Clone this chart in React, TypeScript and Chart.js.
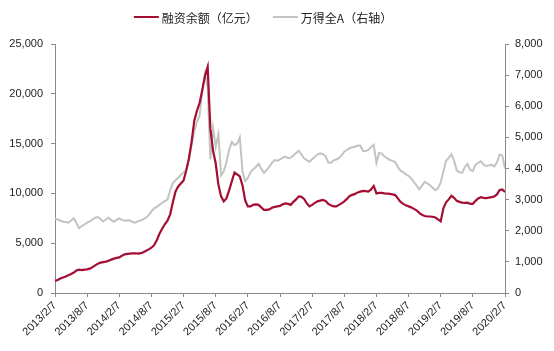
import React, { useEffect, useRef } from 'react';
import { Chart, registerables } from 'chart.js';

Chart.register(...registerables);

// x tick labels, one every 6 months (x axis is in months since 2013/2/7)
const tickLabels = [
  '2013/2/7', '2013/8/7', '2014/2/7', '2014/8/7', '2015/2/7', '2015/8/7', '2016/2/7',
  '2016/8/7', '2017/2/7', '2017/8/7', '2018/2/7', '2018/8/7', '2019/2/7', '2019/8/7', '2020/2/7',
];
const MONTHS_PER_TICK = 6;
const MONTHS_PER_POINT = 0.5;

const seriesNames = ['融资余额（亿元）', '万得全A（右轴）'];

// 融资余额 (亿元), half-month samples from 2013/2/7 to 2020/2/7
const marginBalance = [
  1200, 1300, 1450, 1550, 1650, 1780, 1900, 2050, 2250, 2350, 2300, 2350,
  2380, 2450, 2600, 2780, 2950, 3050, 3100, 3150, 3230, 3350, 3450, 3520,
  3580, 3750, 3880, 3920, 3950, 3980, 3990, 3960, 4000, 4100, 4250, 4380,
  4550, 4800, 5300, 5950, 6450, 6900, 7250, 7900, 9100, 10200, 10700, 11000,
  11300, 12300, 13500, 15200, 17300, 18300, 19100, 20400, 21800, 22700, 16500, 14300,
  13000, 10900, 9700, 9200, 9500, 10300, 11200, 12100, 11900, 11700, 10800, 9300,
  8700, 8700, 8850, 8900, 8850, 8600, 8350, 8350, 8400, 8550, 8650, 8700,
  8750, 8900, 9000, 8950, 8850, 9150, 9400, 9700, 9650, 9450, 9000, 8700,
  8850, 9050, 9200, 9280, 9350, 9250, 8950, 8800, 8700, 8700, 8850, 9000,
  9200, 9450, 9750, 9850, 9950, 10100, 10180, 10250, 10220, 10180, 10400, 10750,
  10000, 10050, 10050, 10000, 9980, 9950, 9900, 9830, 9500, 9150, 8950, 8800,
  8700, 8600, 8450, 8300, 8050, 7850, 7730, 7700, 7680, 7650, 7580, 7400,
  7200, 8500, 9100, 9400, 9750, 9550, 9250, 9150, 9080, 9050, 9070, 8950,
  8950, 9250, 9500, 9620, 9550, 9520, 9580, 9620, 9700, 9900, 10350, 10400,
  10150,
];

// 万得全A index (right axis), half-month samples
const windAllA = [
  2400, 2360, 2330, 2290, 2280, 2260, 2330, 2400, 2250, 2080, 2150, 2200,
  2260, 2300, 2370, 2420, 2440, 2380, 2300, 2360, 2420, 2340, 2290, 2350,
  2400, 2350, 2320, 2340, 2330, 2280, 2260, 2310, 2330, 2370, 2420, 2500,
  2620, 2720, 2770, 2830, 2900, 2950, 3000, 3300, 3530, 3620, 3700, 3800,
  3870, 3950, 4300, 4750, 5200, 5500, 5700, 6500, 7050, 6600, 4300, 5300,
  4700, 5100, 3780, 3900, 4200, 4600, 4850, 4750, 4800, 5000, 3900, 3600,
  3700, 3880, 3980, 4050, 4150, 4000, 3860, 3950, 4060, 4180, 4270, 4250,
  4290, 4350, 4380, 4330, 4350, 4420, 4500, 4570, 4450, 4330, 4270, 4220,
  4300, 4380, 4450, 4490, 4460, 4400, 4200, 4180, 4260, 4290, 4330, 4420,
  4540, 4600, 4650, 4680, 4700, 4740, 4730, 4560, 4560, 4600, 4690, 4760,
  4180, 4500, 4480, 4390, 4330, 4270, 4250, 4200, 4050, 3930, 3880, 3820,
  3760, 3680, 3560, 3450, 3330, 3450, 3570, 3520, 3460, 3380, 3300, 3360,
  3550, 3900, 4250, 4340, 4460, 4250, 3940, 3880, 3860, 4050, 4150, 3950,
  3920, 4120, 4180, 4230, 4120, 4080, 4100, 4120, 4070, 4200, 4450, 4420,
  4000,
];

const leftMax = 25000;
const leftStep = 5000;
const rightMax = 8000;
const rightStep = 1000;

const RED = '#A50D33';
const GRAY = '#C3C3C3';
const AXIS = '#8A8A8A';
const TEXT = '#222222';
const TICK_FONT = { family: '"Liberation Sans", Arial, sans-serif', size: 11 };

const W = 554;
const H = 351;

const customLegend = {
  id: 'customLegend',
  afterDraw(chart: any) {
    const ctx = chart.ctx as CanvasRenderingContext2D;
    ctx.save();
    ctx.font = '12px "Noto Sans CJK SC", sans-serif';
    ctx.textBaseline = 'middle';
    const lineW = 25;
    const gap = 3;
    const itemGap = 15;
    const items = chart.data.datasets.map((ds: any) => ({
      label: ds.label as string,
      color: ds.borderColor as string,
      w: ctx.measureText(ds.label).width,
    }));
    const total = items.reduce((s: number, it: any) => s + lineW + gap + it.w, 0) + itemGap * (items.length - 1);
    let x = 263 - total / 2;
    const y = 17;
    for (const it of items) {
      ctx.strokeStyle = it.color;
      ctx.lineWidth = 2;
      ctx.beginPath();
      ctx.moveTo(x, y);
      ctx.lineTo(x + lineW, y);
      ctx.stroke();
      ctx.fillStyle = TEXT;
      ctx.textAlign = 'left';
      ctx.fillText(it.label, x + lineW + gap, y + 1);
      x += lineW + gap + it.w + itemGap;
    }
    ctx.restore();
  },
};

export default function App() {
  const ref = useRef<HTMLCanvasElement | null>(null);

  useEffect(() => {
    if (!ref.current) return;
    const toPoints = (arr: number[]) => arr.map((v, i) => ({ x: i * MONTHS_PER_POINT, y: v }));
    const chart = new Chart(ref.current, {
      type: 'line',
      data: {
        datasets: [
          {
            label: seriesNames[0],
            data: toPoints(marginBalance),
            borderColor: RED,
            backgroundColor: RED,
            borderWidth: 2.2,
            pointRadius: 0,
            tension: 0,
            yAxisID: 'y',
          },
          {
            label: seriesNames[1],
            data: toPoints(windAllA),
            borderColor: GRAY,
            backgroundColor: GRAY,
            borderWidth: 2,
            pointRadius: 0,
            tension: 0,
            yAxisID: 'y1',
          },
        ],
      },
      options: {
        responsive: false,
        animation: false,
        layout: { padding: { top: 44, left: 0, right: 0, bottom: 0 } },
        plugins: {
          legend: { display: false },
          tooltip: { enabled: false },
        },
        scales: {
          x: {
            type: 'linear',
            min: 0,
            max: (tickLabels.length - 1) * MONTHS_PER_TICK,
            afterFit: (s: any) => { s.height = 58; },
            afterBuildTicks: (s: any) => {
              s.ticks = tickLabels.map((_, i) => ({ value: i * MONTHS_PER_TICK }));
            },
            ticks: {
              autoSkip: false,
              maxRotation: 45,
              minRotation: 45,
              padding: 2,
              color: TEXT,
              font: TICK_FONT,
              callback: (v: any) => tickLabels[Math.round(Number(v) / MONTHS_PER_TICK)] ?? '',
            },
            grid: { drawOnChartArea: false, drawTicks: true, tickLength: 4, color: AXIS },
            border: { display: true, color: AXIS, width: 1 },
          },
          y: {
            type: 'linear',
            position: 'left',
            min: 0,
            max: leftMax,
            afterFit: (s: any) => { s.width = 55; },
            ticks: { stepSize: leftStep, color: TEXT, font: TICK_FONT, padding: 8 },
            grid: { drawOnChartArea: false, drawTicks: true, tickLength: 4, color: AXIS },
            border: { display: true, color: AXIS, width: 1 },
          },
          y1: {
            type: 'linear',
            position: 'right',
            min: 0,
            max: rightMax,
            afterFit: (s: any) => { s.width = 49; },
            ticks: { stepSize: rightStep, color: TEXT, font: TICK_FONT, padding: 6 },
            grid: { drawOnChartArea: false, drawTicks: true, tickLength: 4, color: AXIS },
            border: { display: true, color: AXIS, width: 1 },
          },
        },
      },
      plugins: [customLegend],
    });
    return () => chart.destroy();
  }, []);

  return (
    <div style={{ position: 'absolute', left: 0, top: 0, width: W, height: H, background: '#fff' }}>
      <canvas ref={ref} width={W} height={H} style={{ display: 'block', width: W, height: H }} />
    </div>
  );
}
